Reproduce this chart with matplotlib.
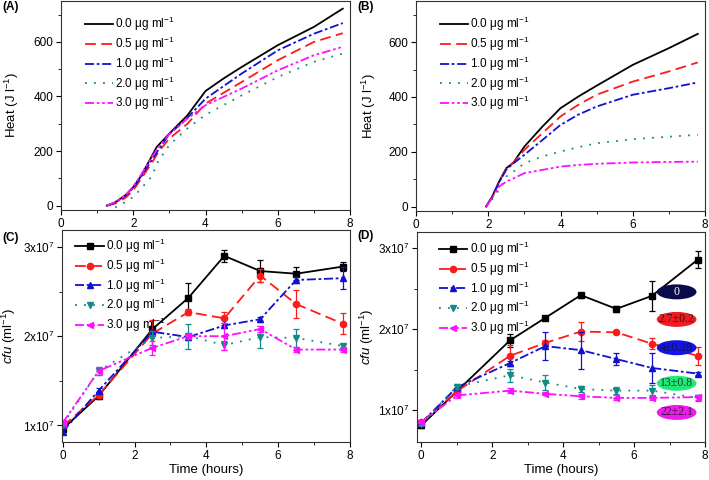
import matplotlib
matplotlib.use("Agg")
import matplotlib.pyplot as plt
from matplotlib.patches import Ellipse
from matplotlib.ticker import MultipleLocator
import numpy as np

plt.rcParams['font.family'] = ['Liberation Sans', 'DejaVu Sans']
plt.rcParams['mathtext.fontset'] = 'custom'
plt.rcParams['mathtext.rm'] = 'Liberation Sans'
plt.rcParams['mathtext.it'] = 'Liberation Sans:italic'

labels = ["0.0 μg ml$^{-1}$", "0.5 μg ml$^{-1}$", "1.0 μg ml$^{-1}$",
          "2.0 μg ml$^{-1}$", "3.0 μg ml$^{-1}$"]
colors = ["black", "#ff1a1a", "#1010d0", "#128a86", "#ff10ff"]
dashes = [(None, None), (6, 3), (5, 1.5, 1.5, 1.5), (1, 4), (5, 1.5, 1.5, 1.5, 1.5, 1.5)]
markers = ["s", "o", "^", "v", "<"]

# ---- panel A: heat curves
a_time = [
    [1.27, 1.5, 1.8, 2.0, 2.2, 2.5, 2.65, 3.0, 3.5, 4.0, 4.5, 5.0, 6.0, 7.0, 7.8],
    [1.27, 1.5, 1.8, 2.0, 2.2, 2.5, 2.7, 3.0, 3.5, 4.0, 5.0, 6.0, 7.0, 7.8],
    [1.27, 1.5, 1.8, 2.0, 2.2, 2.5, 2.7, 3.0, 3.5, 4.0, 5.0, 6.0, 7.0, 7.8],
    [1.5, 1.8, 2.0, 2.2, 2.5, 2.7, 3.0, 3.5, 4.0, 5.0, 6.0, 7.0, 7.8],
    [1.27, 1.5, 1.8, 2.0, 2.2, 2.5, 2.7, 3.0, 3.5, 4.0, 5.0, 6.0, 7.0, 7.8],
]
a_heat = [
    [0, 12, 40, 68, 105, 178, 215, 264, 331, 420, 466, 508, 588, 655, 722],
    [0, 8, 30, 56, 95, 154, 197, 246, 300, 374, 453, 533, 600, 632],
    [0, 10, 38, 65, 102, 165, 205, 262, 322, 392, 484, 569, 630, 669],
    [-7, 15, 32, 60, 105, 165, 222, 283, 333, 404, 471, 527, 557],
    [0, 12, 40, 70, 110, 175, 215, 262, 319, 368, 429, 496, 551, 582],
]

# ---- panel B: heat curves
b_time = [1.94, 2.1, 2.3, 2.5, 2.7, 3.0, 3.5, 4.0, 4.5, 5.0, 6.0, 7.0, 7.8]
b_heat = [
    [0, 34, 91, 140, 161, 219, 292, 359, 402, 441, 517, 578, 630],
    [0, 34, 90, 140, 160, 207, 268, 329, 372, 408, 456, 493, 526],
    [0, 33, 88, 135, 158, 189, 243, 298, 336, 365, 408, 432, 453],
    [0, 25, 61, 110, 128, 158, 183, 201, 217, 231, 246, 255, 262],
    [0, 30, 73, 91, 103, 122, 134, 146, 152, 156, 161, 163, 164],
]

# ---- panels C, D: cfu counts (x1e7)
cfu_time = [0, 1, 2.5, 3.5, 4.5, 5.5, 6.5, 7.8]
c_cfu = [
    [0.96, 1.33, 2.08, 2.43, 2.90, 2.73, 2.70, 2.78],
    [0.99, 1.34, 2.03, 2.27, 2.20, 2.68, 2.36, 2.14],
    [0.93, 1.39, 2.05, 1.99, 2.12, 2.19, 2.63, 2.65],
    [1.01, 1.61, 1.98, 2.00, 1.90, 1.99, 1.98, 1.89],
    [1.03, 1.61, 1.87, 2.00, 2.00, 2.08, 1.85, 1.85],
]
c_err = [
    [0.03, 0.03, 0.03, 0.17, 0.07, 0.12, 0.07, 0.05],
    [0.03, 0.03, 0.15, 0.03, 0.07, 0.07, 0.16, 0.12],
    [0.03, 0.03, 0.03, 0.03, 0.03, 0.03, 0.03, 0.12],
    [0.03, 0.04, 0.08, 0.14, 0.05, 0.12, 0.10, 0.02],
    [0.03, 0.04, 0.08, 0.03, 0.15, 0.03, 0.03, 0.03],
]
d_cfu = [
    [0.81, 1.23, 1.86, 2.14, 2.42, 2.25, 2.41, 2.86],
    [0.85, 1.23, 1.67, 1.83, 1.97, 1.96, 1.82, 1.67],
    [0.84, 1.28, 1.58, 1.79, 1.74, 1.63, 1.52, 1.45],
    [0.83, 1.29, 1.43, 1.34, 1.26, 1.24, 1.24, 1.15],
    [0.85, 1.18, 1.24, 1.20, 1.17, 1.15, 1.15, 1.16],
]
d_err = [
    [0.03, 0.03, 0.08, 0.02, 0.03, 0.04, 0.19, 0.11],
    [0.03, 0.03, 0.13, 0.03, 0.12, 0.02, 0.07, 0.11],
    [0.03, 0.03, 0.03, 0.17, 0.23, 0.07, 0.18, 0.02],
    [0.03, 0.03, 0.08, 0.09, 0.04, 0.04, 0.07, 0.04],
    [0.03, 0.03, 0.03, 0.02, 0.03, 0.03, 0.03, 0.03],
]

# MIC-style annotations in panel D
tag_text = ["0", "2.7±0.2", "4±0.28", "13±0.8", "22±2.1"]
tag_y = [2.46, 2.12, 1.77, 1.33, 0.97]
tag_face = ["#0a0a4a", "#f01c24", "#1414e8", "#20ea78", "#ea1cea"]
tag_fg = ["white", "#3a1010", "#101060", "#104020", "#401040"]

fig = plt.figure(figsize=(7.09, 4.80), dpi=100)
W, H = 709, 480
def box(l, t, r, b):
    return [l / W, 1 - b / H, (r - l) / W, (b - t) / H]

axA = fig.add_axes(box(61, 1, 350, 210))
axB = fig.add_axes(box(416, 1, 705, 211))
axC = fig.add_axes(box(62, 230, 350, 442))
axD = fig.add_axes(box(417, 232, 705, 442))

def style(ax):
    ax.tick_params(which='both', direction='out', labelsize=8.5, top=False, right=False)
    ax.tick_params(which='major', length=3.5, pad=2)
    ax.tick_params(which='minor', length=2)
    ax.xaxis.set_major_locator(MultipleLocator(2))
    ax.xaxis.set_minor_locator(MultipleLocator(1))
    for s in ax.spines.values():
        s.set_linewidth(0.8)
        s.set_color("#333333")

def legend(ax, x, y):
    ax.legend(loc='upper left', bbox_to_anchor=(x, y), frameon=False, fontsize=8.5,
              handlelength=2.4, handletextpad=0.2, labelspacing=0.13, borderaxespad=0)

# heat panels
for ax, t_list, h_list in [(axA, a_time, a_heat), (axB, [b_time] * 5, b_heat)]:
    for i in range(5):
        ln, = ax.plot(t_list[i], h_list[i], color=colors[i], lw=1.3, label=labels[i])
        if dashes[i][0] is not None:
            ln.set_dashes(dashes[i])
    style(ax)
    ax.set_xlim(0, 8)
    ax.set_ylim(-16, 750)
    ax.yaxis.set_major_locator(MultipleLocator(200))
    ax.yaxis.set_minor_locator(MultipleLocator(100))
    ax.set_ylabel("Heat (J l$^{-1}$)", fontsize=9.5)
    legend(ax, 0.065, 0.955)
axA.yaxis.set_label_coords(-0.138, 0.5)
axB.yaxis.set_label_coords(-0.131, 0.5)

# cfu panels
for ax, vals, errs, lims in [(axC, c_cfu, c_err, (-0.02, 0.814, 3.19)),
                             (axD, d_cfu, d_err, (-0.12, 0.605, 3.2))]:
    for i in range(5):
        v = np.array(vals[i]) * 1e7
        e = np.array(errs[i]) * 1e7
        ax.errorbar(cfu_time, v, yerr=e, fmt='none', ecolor=colors[i], elinewidth=0.9,
                    capsize=2.5, capthick=0.9)
        ln, = ax.plot(cfu_time, v, color=colors[i], lw=1.3, marker=markers[i], ms=4.5,
                      label=labels[i])
        if dashes[i][0] is not None:
            ln.set_dashes(dashes[i])
    style(ax)
    ax.set_xlim(lims[0], 8)
    ax.set_ylim(lims[1] * 1e7, lims[2] * 1e7)
    ax.set_yticks([1e7, 2e7, 3e7])
    ax.set_yticklabels(["1x10$^7$", "2x10$^7$", "3x10$^7$"])
    ax.yaxis.set_minor_locator(MultipleLocator(0.5e7))
    ax.set_ylabel("$cfu$ (ml$^{-1}$)", fontsize=9.5)
    ax.set_xlabel("Time (hours)", fontsize=9.5, labelpad=2)

axC.yaxis.set_label_coords(-0.153, 0.5)
axD.yaxis.set_label_coords(-0.142, 0.5)
legend(axC, 0.03, 0.99)
legend(axD, 0.06, 0.985)

# ellipse tags in D
for i in range(5):
    axD.add_patch(Ellipse((7.2, tag_y[i] * 1e7), 1.12, 0.185e7, facecolor=tag_face[i],
                          edgecolor='none', zorder=5))
    axD.text(7.2, tag_y[i] * 1e7, tag_text[i], ha='center', va='center', fontsize=8.5,
             family='Liberation Serif', color=tag_fg[i], zorder=6)

# panel letters
for x, y, s in [(2, 7, "(A)"), (357, 7, "(B)"), (2, 238, "(C)"), (357, 236, "(D)")]:
    fig.text(x / W, 1 - y / H, s, fontsize=8.5, fontweight='bold', va='center')

fig.savefig("out.png", dpi=100)
